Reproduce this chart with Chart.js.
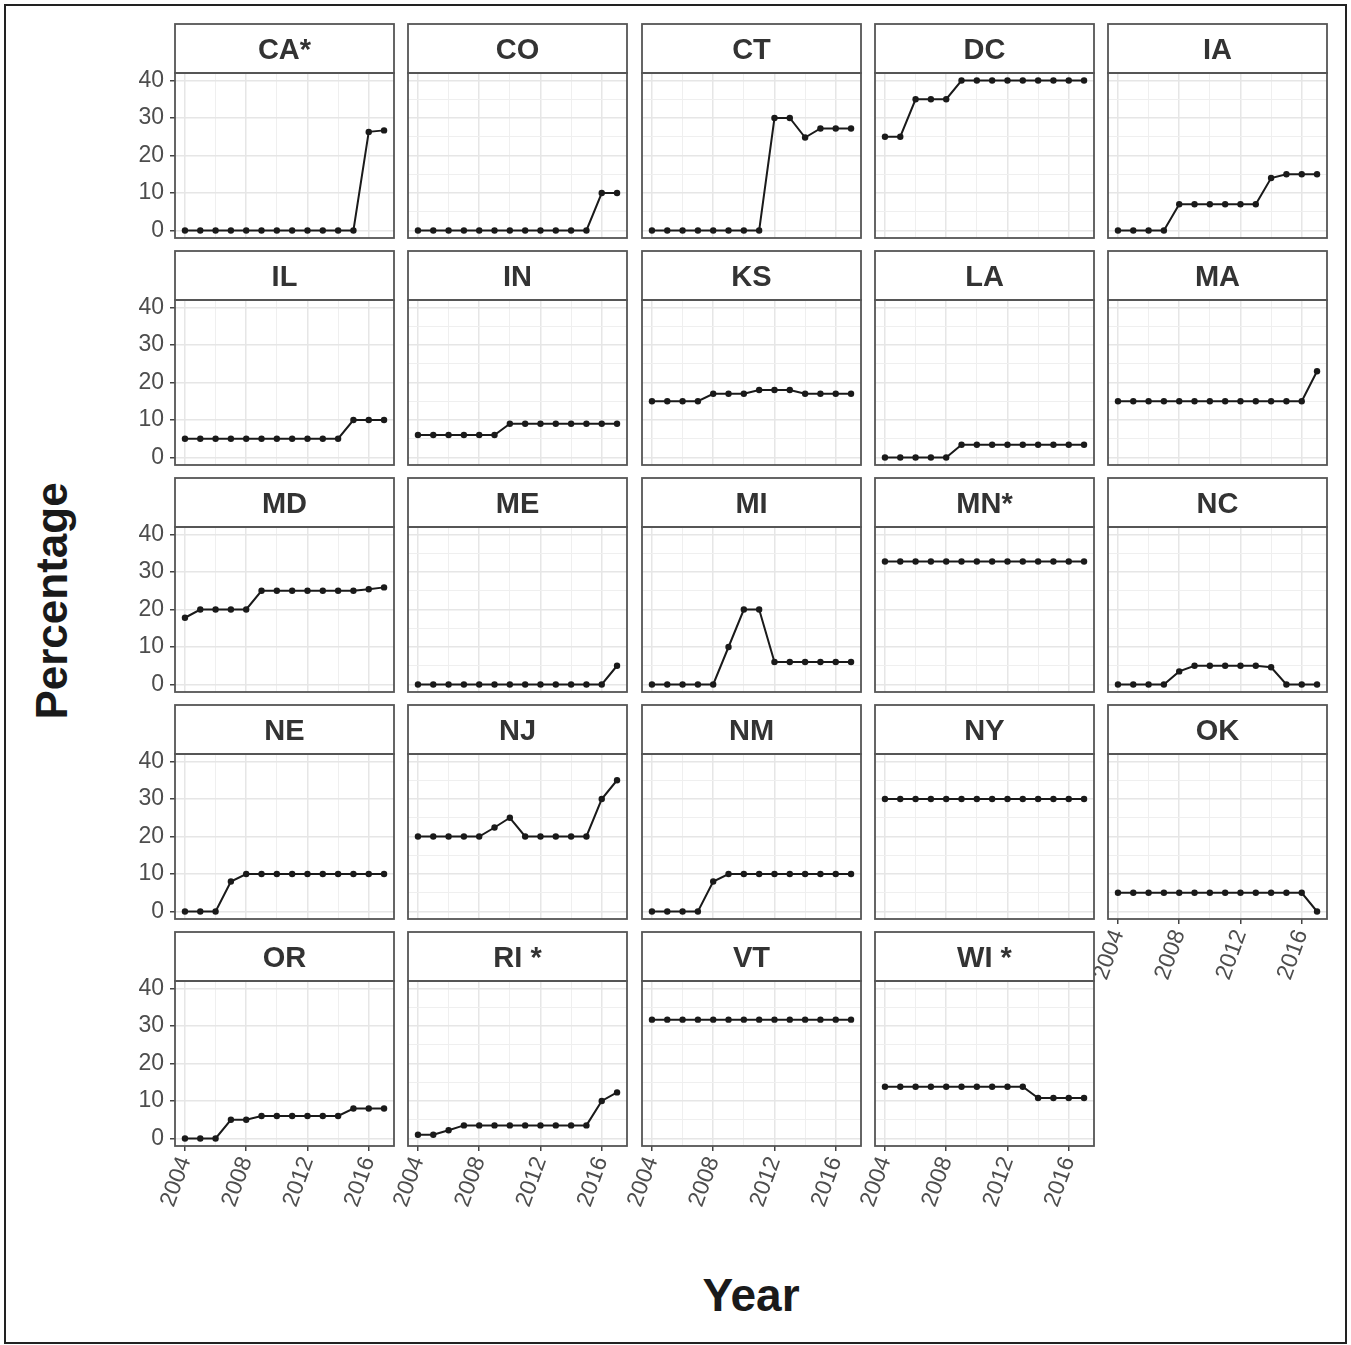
<!DOCTYPE html>
<html>
<head>
<meta charset="utf-8">
<script src="https://cdn.jsdelivr.net/npm/chart.js@4.4.1/dist/chart.umd.min.js"></script>
<style>
  body { margin: 0; background: #fff; font-family: "Liberation Sans", Arial, sans-serif; }
  #frame { position: absolute; left: 4px; top: 4px; width: 1339px; height: 1336px; border: 2px solid #222; }
  #ytitle { position: absolute; left: 52px; top: 601px; transform: translate(-50%, -50%) rotate(-90deg);
            font: bold 44px "Liberation Sans", Arial, sans-serif; color: #1a1a1a; white-space: nowrap; line-height: 1; }
  #xtitle { position: absolute; left: 751px; top: 1295px; transform: translate(-50%, -50%);
            font: bold 46px "Liberation Sans", Arial, sans-serif; color: #1a1a1a; white-space: nowrap; line-height: 1; }
  canvas { position: absolute; }
</style>
</head>
<body>
<div id="frame"></div>
<div id="ytitle">Percentage</div>
<div id="xtitle">Year</div>
<script>
var years = [2004, 2005, 2006, 2007, 2008, 2009, 2010, 2011, 2012, 2013, 2014, 2015, 2016, 2017];

// percentage per state, one value per year
var CA = [0, 0, 0, 0, 0, 0, 0, 0, 0, 0, 0, 0, 26.3, 26.7];
var CO = [0, 0, 0, 0, 0, 0, 0, 0, 0, 0, 0, 0, 10, 10];
var CT = [0, 0, 0, 0, 0, 0, 0, 0, 30, 30, 24.8, 27.2, 27.2, 27.2];
var DC = [25, 25, 35, 35, 35, 40, 40, 40, 40, 40, 40, 40, 40, 40];
var IA = [0, 0, 0, 0, 7, 7, 7, 7, 7, 7, 14, 15, 15, 15];
var IL = [5, 5, 5, 5, 5, 5, 5, 5, 5, 5, 5, 10, 10, 10];
var IN = [6, 6, 6, 6, 6, 6, 9, 9, 9, 9, 9, 9, 9, 9];
var KS = [15, 15, 15, 15, 17, 17, 17, 18, 18, 18, 17, 17, 17, 17];
var LA = [0, 0, 0, 0, 0, 3.4, 3.4, 3.4, 3.4, 3.4, 3.4, 3.4, 3.4, 3.4];
var MA = [15, 15, 15, 15, 15, 15, 15, 15, 15, 15, 15, 15, 15, 23];
var MD = [17.8, 20, 20, 20, 20, 25, 25, 25, 25, 25, 25, 25, 25.4, 25.9];
var ME = [0, 0, 0, 0, 0, 0, 0, 0, 0, 0, 0, 0, 0, 5];
var MI = [0, 0, 0, 0, 0, 10, 20, 20, 6, 6, 6, 6, 6, 6];
var MN = [32.8, 32.8, 32.8, 32.8, 32.8, 32.8, 32.8, 32.8, 32.8, 32.8, 32.8, 32.8, 32.8, 32.8];
var NC = [0, 0, 0, 0, 3.5, 5, 5, 5, 5, 5, 4.6, 0, 0, 0];
var NE = [0, 0, 0, 8, 10, 10, 10, 10, 10, 10, 10, 10, 10, 10];
var NJ = [20, 20, 20, 20, 20, 22.4, 25, 20, 20, 20, 20, 20, 30, 35];
var NM = [0, 0, 0, 0, 8, 10, 10, 10, 10, 10, 10, 10, 10, 10];
var NY = [30, 30, 30, 30, 30, 30, 30, 30, 30, 30, 30, 30, 30, 30];
var OK = [5, 5, 5, 5, 5, 5, 5, 5, 5, 5, 5, 5, 5, 0];
var OR = [0, 0, 0, 5, 5, 6, 6, 6, 6, 6, 6, 8, 8, 8];
var RI = [1, 1, 2.2, 3.5, 3.5, 3.5, 3.5, 3.5, 3.5, 3.5, 3.5, 3.5, 10, 12.3];
var VT = [31.7, 31.7, 31.7, 31.7, 31.7, 31.7, 31.7, 31.7, 31.7, 31.7, 31.7, 31.7, 31.7, 31.7];
var WI = [13.8, 13.8, 13.8, 13.8, 13.8, 13.8, 13.8, 13.8, 13.8, 13.8, 10.8, 10.8, 10.8, 10.8];

var labels = ['CA*', 'CO', 'CT', 'DC', 'IA',
              'IL', 'IN', 'KS', 'LA', 'MA',
              'MD', 'ME', 'MI', 'MN*', 'NC',
              'NE', 'NJ', 'NM', 'NY', 'OK',
              'OR', 'RI *', 'VT', 'WI *'];
var series = [CA, CO, CT, DC, IA, IL, IN, KS, LA, MA, MD, ME, MI, MN, NC,
              NE, NJ, NM, NY, OK, OR, RI, VT, WI];

var yTicks = [0, 10, 20, 30, 40];
var xTicks = [2004, 2008, 2012, 2016];

var FONT = '"Liberation Sans", Arial, sans-serif';
var STRIP_H = 49;

// strip box above the panel and border around it
var panelFrame = {
  id: 'panelFrame',
  beforeDraw: function(chart) {
    var a = chart.chartArea, c = chart.ctx;
    c.save();
    c.fillStyle = '#fff';
    c.fillRect(a.left, a.top - STRIP_H, a.right - a.left, STRIP_H);
    c.restore();
  },
  afterDraw: function(chart) {
    var a = chart.chartArea, c = chart.ctx;
    c.save();
    c.strokeStyle = '#555';
    c.lineWidth = 1.8;
    c.strokeRect(a.left, a.top - STRIP_H, a.right - a.left, STRIP_H);
    c.strokeRect(a.left, a.top, a.right - a.left, a.bottom - a.top);
    c.restore();
  }
};

function makePanel(i) {
  var col = i % 5, row = Math.floor(i / 5);
  var showY = col === 0;
  var showX = row === 4 || (row === 3 && col === 4);
  var plotLeft = 175 + col * 233.25;
  var stripTop = 24 + row * 227;

  var cv = document.createElement('canvas');
  cv.width = 273;
  cv.height = 295;
  cv.style.left = Math.round(plotLeft - 50) + 'px';
  cv.style.top = (stripTop - 1) + 'px';
  document.body.appendChild(cv);

  var pts = years.map(function(y, k) { return { x: y, y: series[i][k] }; });

  new Chart(cv.getContext('2d'), {
    type: 'line',
    data: {
      datasets: [{
        data: pts,
        borderColor: '#1a1a1a',
        backgroundColor: '#1a1a1a',
        borderWidth: 2,
        pointRadius: 3.2,
        pointBorderWidth: 0,
        pointBackgroundColor: '#1a1a1a',
        tension: 0
      }]
    },
    options: {
      responsive: false,
      animation: false,
      devicePixelRatio: 1,
      events: [],
      layout: { padding: { top: 1, right: 3, left: 0, bottom: 0 } },
      plugins: {
        legend: { display: false },
        tooltip: { enabled: false },
        title: {
          display: true,
          text: labels[i],
          fullSize: false,
          color: '#333',
          font: { family: FONT, size: 29, weight: 'bold', lineHeight: 1.2 },
          padding: { top: 9.8, bottom: 4.4 }
        }
      },
      scales: {
        x: {
          type: 'linear',
          min: 2003.35,
          max: 2017.65,
          afterFit: function(s) { s.height = 80; },
          border: { display: false },
          grid: {
            color: function(ctx) { return xTicks.indexOf(ctx.tick.value) >= 0 ? '#e6e6e6' : '#efefef'; },
            lineWidth: function(ctx) { return xTicks.indexOf(ctx.tick.value) >= 0 ? 1.5 : 1; },
            drawTicks: showX,
            tickLength: 5,
            tickWidth: 1.5,
            tickColor: function(ctx) { return xTicks.indexOf(ctx.tick.value) >= 0 ? '#444' : 'rgba(0,0,0,0)'; }
          },
          ticks: {
            display: showX,
            stepSize: 2,
            includeBounds: false,
            autoSkip: false,
            minRotation: 70,
            maxRotation: 70,
            padding: 2,
            color: '#4d4d4d',
            font: { family: FONT, size: 23 },
            callback: function(v) { return xTicks.indexOf(v) >= 0 ? String(v) : ''; }
          }
        },
        y: {
          min: -2,
          max: 42,
          afterFit: function(s) { s.width = 50; },
          border: { display: false },
          grid: {
            color: function(ctx) { return yTicks.indexOf(ctx.tick.value) >= 0 ? '#e6e6e6' : '#efefef'; },
            lineWidth: function(ctx) { return yTicks.indexOf(ctx.tick.value) >= 0 ? 1.5 : 1; },
            drawTicks: showY,
            tickLength: 5,
            tickWidth: 1.5,
            tickColor: function(ctx) { return yTicks.indexOf(ctx.tick.value) >= 0 ? '#444' : 'rgba(0,0,0,0)'; }
          },
          ticks: {
            display: showY,
            stepSize: 5,
            includeBounds: false,
            padding: 6,
            color: '#4d4d4d',
            font: { family: FONT, size: 23 },
            callback: function(v) { return yTicks.indexOf(v) >= 0 ? String(v) : ''; }
          }
        }
      }
    },
    plugins: [panelFrame]
  });
}

for (var i = 0; i < labels.length; i++) makePanel(i);
</script>
</body>
</html>
